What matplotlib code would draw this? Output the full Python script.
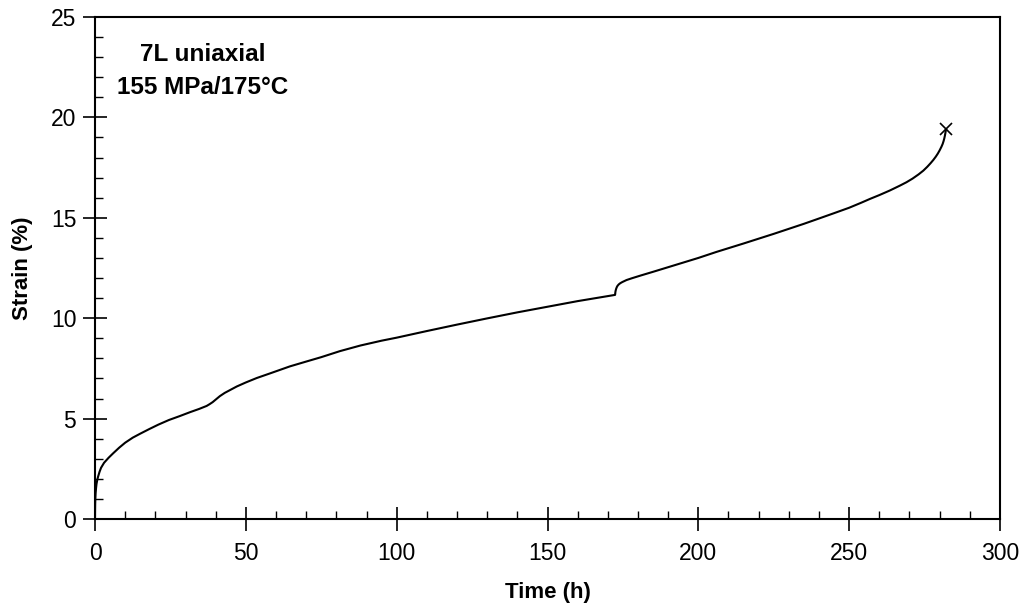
import matplotlib
matplotlib.use("Agg")
import matplotlib.pyplot as plt
from matplotlib.ticker import MultipleLocator

plt.rcParams['font.family'] = ['Liberation Sans', 'DejaVu Sans']

time_h = [0, 0.02, 0.05, 0.1, 0.2, 0.35, 0.5, 0.75, 1.0, 1.5, 2.0, 3.0, 4.5, 6.0, 8.0, 10.0,
          12.5, 15.0, 18.0, 21.0, 24.5, 28.0, 31.5, 34.5, 37.0,
          38.0, 39.0, 40.2, 41.4, 43.0, 44.5, 47.0, 50.0, 53.6, 58.0, 64.6, 70.0, 75.0,
          81.2, 88.0, 95.0, 100.0, 110.0, 120.0, 130.0, 140.0, 150.0, 160.0, 172.4,
          172.45, 172.5, 172.6, 172.75, 172.95, 173.2, 173.6, 174.1, 174.8, 175.5, 176.2,
          178.0, 181.0, 185.0, 190.0, 195.0, 200.0, 206.0, 215.0, 225.0, 235.0, 240.3,
          245.0, 250.0, 254.0, 256.9, 260.0, 263.5, 266.8, 269.0, 271.0, 273.0, 274.6,
          275.9, 277.0, 277.9, 278.7, 279.4, 280.0, 280.6, 281.0, 281.3, 281.55, 281.75,
          281.9, 282.0, 282.1]
strain_pct = [0, 0.45, 0.75, 1.0, 1.3, 1.55, 1.75, 1.95, 2.1, 2.35, 2.55, 2.8, 3.05, 3.27, 3.55, 3.8,
              4.05, 4.25, 4.48, 4.7, 4.93, 5.12, 5.32, 5.48, 5.63,
              5.72, 5.82, 5.97, 6.12, 6.28, 6.4, 6.6, 6.8, 7.02, 7.25, 7.6, 7.84, 8.06,
              8.36, 8.64, 8.88, 9.03, 9.36, 9.68, 9.99, 10.29, 10.57, 10.85, 11.16,
              11.22, 11.3, 11.38, 11.46, 11.54, 11.61, 11.68, 11.74, 11.8, 11.85, 11.9,
              11.99, 12.13, 12.31, 12.54, 12.77, 13.0, 13.3, 13.72, 14.2, 14.7, 14.98,
              15.23, 15.5, 15.75, 15.94, 16.13, 16.36, 16.6, 16.77, 16.95, 17.16, 17.35,
              17.54, 17.72, 17.88, 18.04, 18.2, 18.36, 18.54, 18.68, 18.82, 18.96, 19.1,
              19.22, 19.31, 19.4]
x_ticks = [0, 50, 100, 150, 200, 250, 300]
y_ticks = [0, 5, 10, 15, 20, 25]

fig = plt.figure(figsize=(10.25, 6.15), dpi=100)
ax = fig.add_axes([0.0927, 0.1561, 0.8829, 0.8163])
ax.plot(time_h, strain_pct, color='black', lw=1.5, solid_joinstyle='round')
ax.plot([time_h[-1]], [strain_pct[-1]], marker='x', color='black', ms=9, mew=1.2)

ax.set_xlim(0, 300)
ax.set_ylim(0, 25)
ax.set_xticks(x_ticks)
ax.set_yticks(y_ticks)
ax.xaxis.set_minor_locator(MultipleLocator(10))
ax.yaxis.set_minor_locator(MultipleLocator(1))
ax.tick_params(which='major', direction='inout', length=17, width=1.2, labelsize=16.5)
ax.tick_params(axis='x', which='major', pad=8)
ax.tick_params(axis='y', which='major', pad=5)
ax.tick_params(which='minor', direction='in', length=6, width=1.0)
for s in ax.spines.values():
    s.set_linewidth(1.5)

ax.set_xlabel('Time (h)', fontsize=16, fontweight='bold', labelpad=12)
ax.set_ylabel('Strain (%)', fontsize=16, fontweight='bold', labelpad=13)

ax.text(0.119, 0.926, '7L uniaxial', transform=ax.transAxes, ha='center', va='center',
        fontsize=17.5, fontweight='bold')
ax.text(0.119, 0.859, '155 MPa/175°C', transform=ax.transAxes, ha='center', va='center',
        fontsize=17.5, fontweight='bold')

fig.savefig('out.png', dpi=100)
